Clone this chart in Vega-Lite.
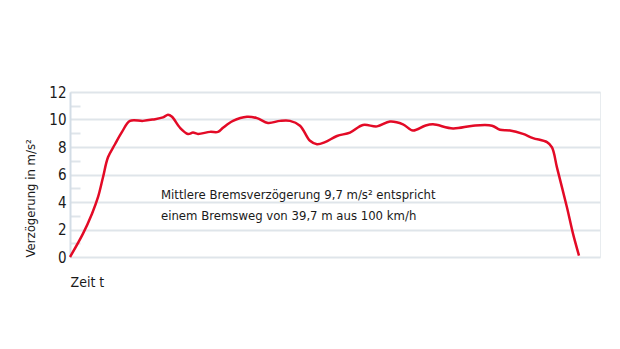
{
  "$schema": "https://vega.github.io/schema/vega-lite/v6.json",
  "width": 530,
  "height": 165,
  "autosize": "none",
  "padding": {"left": 70, "top": 92, "right": 20, "bottom": 92},
  "background": "white",
  "config": {
    "font": "DejaVu Sans Condensed, Liberation Sans Narrow, sans-serif",
    "view": {"stroke": "#e8ecef", "strokeWidth": 1}
  },
  "datasets": {
    "curve": [
      {"t": 0, "v": 0}, {"t": 13, "v": 1.7}, {"t": 22, "v": 3.15}, {"t": 28, "v": 4.35},
      {"t": 33, "v": 5.8}, {"t": 38, "v": 7.25}, {"t": 45, "v": 8.2}, {"t": 52, "v": 9.1},
      {"t": 60, "v": 9.9},
      {"t": 73, "v": 9.9}, {"t": 83, "v": 10.0}, {"t": 93, "v": 10.15}, {"t": 98, "v": 10.35},
      {"t": 102, "v": 10.2}, {"t": 110, "v": 9.4}, {"t": 118, "v": 8.95}, {"t": 123, "v": 9.05},
      {"t": 128, "v": 8.95}, {"t": 140, "v": 9.1}, {"t": 148, "v": 9.1}, {"t": 153, "v": 9.4},
      {"t": 163, "v": 9.9}, {"t": 177, "v": 10.2}, {"t": 187, "v": 10.1}, {"t": 198, "v": 9.75},
      {"t": 210, "v": 9.9}, {"t": 220, "v": 9.9}, {"t": 230, "v": 9.55}, {"t": 240, "v": 8.45},
      {"t": 247, "v": 8.2}, {"t": 255, "v": 8.35}, {"t": 267, "v": 8.8}, {"t": 280, "v": 9.05},
      {"t": 293, "v": 9.6}, {"t": 307, "v": 9.5}, {"t": 320, "v": 9.85}, {"t": 333, "v": 9.65},
      {"t": 343, "v": 9.2}, {"t": 355, "v": 9.55}, {"t": 363, "v": 9.65}, {"t": 383, "v": 9.35},
      {"t": 403, "v": 9.55}, {"t": 422, "v": 9.55}, {"t": 430, "v": 9.25}, {"t": 440, "v": 9.2},
      {"t": 453, "v": 8.95}, {"t": 463, "v": 8.65}, {"t": 477, "v": 8.35}, {"t": 482, "v": 7.97},
      {"t": 487, "v": 6.5}, {"t": 497, "v": 3.6}, {"t": 503, "v": 1.7}, {"t": 509, "v": 0.1}
    ],
    "note": [
      {"t": 91, "v": 4.5, "label": ["Mittlere Bremsverzögerung 9,7 m/s² entspricht", "einem Bremsweg von 39,7 m aus 100 km/h"]}
    ]
  },
  "layer": [
    {
      "data": {"name": "curve"},
      "mark": {"type": "line", "color": "#e30a26", "strokeWidth": 2.5, "interpolate": "catmull-rom"},
      "encoding": {
        "x": {
          "field": "t", "type": "quantitative",
          "scale": {"domain": [0, 530], "nice": false, "zero": false},
          "axis": {
            "title": "Zeit t", "labels": false, "ticks": false, "domain": false, "grid": false,
            "titleAnchor": "start", "titleAlign": "left", "titlePadding": 18,
            "titleFontSize": 14, "titleFontWeight": "normal",
            "titleColor": "#1a1a1a"
          }
        },
        "y": {
          "field": "v", "type": "quantitative",
          "scale": {"domain": [0, 12], "nice": false},
          "axis": {
            "title": "Verzögerung in m/s²",
            "tickCount": 12,
            "labelExpr": "datum.value % 2 == 0 ? datum.label : ''",
            "labelOverlap": false,
            "labelFontSize": 15, "labelColor": "#1a1a1a",
            "labelPadding": 14,
            "ticks": true,
            "tickSize": -10,
            "tickColor": {"condition": {"test": "datum.value % 2 == 1", "value": "#dfe5ea"}, "value": "transparent"},
            "tickWidth": 2,
            "grid": true,
            "gridColor": {"condition": {"test": "datum.value % 2 == 0", "value": "#dfe5ea"}, "value": "transparent"},
            "gridWidth": 2,
            "domain": true, "domainColor": "#d3dde6", "domainWidth": 2,
            "titleAnchor": "start", "titleAlign": "left", "titlePadding": 11,
            "titleFontSize": 13, "titleFontWeight": "normal",
            "titleColor": "#1a1a1a"
          }
        }
      }
    },
    {
      "data": {"name": "note"},
      "mark": {"type": "text", "align": "left", "baseline": "middle", "lineHeight": 21,
               "fontSize": 13, "color": "#1a1a1a"},
      "encoding": {
        "x": {"field": "t", "type": "quantitative"},
        "y": {"field": "v", "type": "quantitative"},
        "text": {"field": "label"}
      }
    }
  ]
}
